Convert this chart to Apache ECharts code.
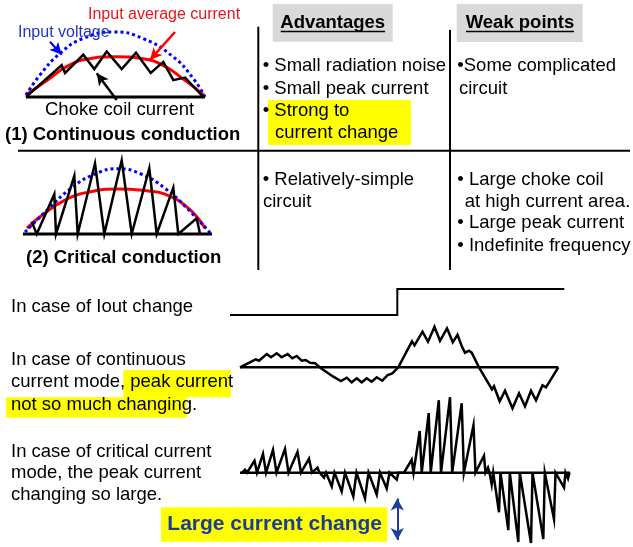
<!DOCTYPE html>
<html>
<head>
<meta charset="utf-8">
<script src="https://cdn.jsdelivr.net/npm/echarts@6/dist/echarts.min.js"></script>
<style>html,body{margin:0;padding:0;background:#fff}#c{width:633px;height:547px}</style>
</head>
<body>
<div id="c"></div>
<script>
// ---- (1) Continuous conduction mini plot (x: phase, y: % of input voltage peak)
const contVoltage = [[0,3],[14,34],[34,67],[57,90],[88,100],[117,90],[147,62],[167,29],[179,0]];
const contAverage = [[0,3],[24,29],[41,47],[60,58],[90,62],[120,58],[139,47],[156,29],[178,3]];
const contCoil = [[0,0],[35.7,49],[39,37],[57.3,65],[68.3,43],[80.7,70],[95.7,43],[110,68],[124.7,37],[137.3,54],[147.3,26],[159,30],[177.3,0]];
const contBase = [[0,0],[179,0]];
// ---- (2) Critical conduction mini plot
const critVoltage = [[2,3],[25,38],[48,70],[72,92],[95,100],[118,92],[142,70],[165,38],[188,0]];
const critAverage = [[4,9],[20,30],[42,52],[65,64],[95,69],[125,66],[142,61],[165,40],[182,9]];
const critCoil = [[8.7,19],[13.7,0],[31.3,61],[33,0],[51.3,89],[54.7,0],[72,108],[81.3,0],[98.7,113],[108.7,0],[126.3,101],[133.7,0],[150.3,71],[155.3,0],[173.7,24],[177,0]];
const critBase = [[0,0],[189,0]];
// ---- Iout step
const ioutStep = [[0,0],[167.3,0],[167.3,1],[334.3,1]];
// ---- Continuous current mode response
const contModeCurrent = [[0,0],[15.7,8],[19,6.6],[26.7,13.3],[31,10],[36.7,14],[41.7,10],[47.7,13.3],[52.3,9],[56.7,11.3],[61.7,6.6],[65.7,7.3],[70,4.6],[75,4],[81,-1],[93.3,-9.4],[95,-8.7],[101,-13.7],[106.7,-10.4],[111.7,-15],[116.7,-11],[121.7,-15],[126.7,-11],[131.7,-14.4],[136.7,-10],[142.3,-13.4],[147.7,-7.7],[152.3,-6],[158.3,0],[172,26],[174.5,22],[182.5,35.6],[188,25.6],[194.5,40.6],[200,26.5],[207,39],[212.8,25],[217.5,32.5],[221.7,21.3],[225,14.6],[229,16.6],[231.7,14.6],[239,0],[252,-22],[254,-19],[259.7,-34],[265,-23.5],[272.5,-41],[279,-26],[285,-39],[291,-23.5],[296,-33],[302.5,-18],[306,-20],[318.3,0]];
const contModeBase = [[0,0],[318.3,0]];
// ---- Critical current mode response
const critModeCurrent = [[2,0],[5,3],[7,0],[14.5,12],[17,0],[23,19],[26,0],[33,23],[36.5,0],[45,24],[48.5,0],[57.5,21],[61,0],[69,14],[72,0],[77.5,5],[79.5,0],
 [84,-5],[86,0],[91.7,-14],[94.5,0],[101.7,-19],[105,0],[113.3,-24],[116.5,0],[125,-26],[128.5,0],[136.7,-22],[140,0],[146.7,-16],[149.5,0],[156.7,-7],[158.5,0],
 [164,0],[171.7,13],[173.5,0],[179.7,42],[181.7,0],[188.7,60],[190.7,0],[198.8,73],[201,0],[210,76],[212.2,0],[221.7,70],[223.9,0],[233.5,48],[235.5,0],[244,17],[245.5,0],[248,5],[249.5,0],
 [251.7,-12],[253.2,0],[259,-40],[260.5,0],[268.3,-58],[269.8,0],[278.3,-70],[279.8,0],[291,-71],[292.5,0],[303.3,-67],[304.8,0],[314,-47],[315.5,0],[324,-15],[325.5,0],[328,-6],[329.5,0]];
const critModeBase = [[0,0],[330,0]];

const FF = "'Liberation Sans', Arial, sans-serif";
const chart = echarts.init(document.getElementById('c'), null, {renderer:'canvas'});

function ln(i, data, color, width, extra) {
  return Object.assign({type:'line', xAxisIndex:i, yAxisIndex:i, data:data, symbol:'none', showSymbol:false,
    clip:false, silent:true, lineStyle:{color:color, width:width, cap:'butt', join:'miter'}}, extra||{});
}
function arrow(p1, p2, color, width) {
  return [{coord:p1, lineStyle:{color:color, width:width, type:'solid'}}, {coord:p2}];
}
function txt(x, y, text, size, opts) {
  opts = opts || {};
  return {type:'text', x:x, y:y, z:10, silent:true, style:{text:text, fill:opts.color||'#000',
    font:(opts.bold?'bold ':'') + size + 'px ' + FF, align:opts.align||'left', verticalAlign:'middle'}};
}
function rect(x, y, w, h, fill) { return {type:'rect', z:1, silent:true, shape:{x:x,y:y,width:w,height:h}, style:{fill:fill}}; }
function seg(x1, y1, x2, y2, w) { return {type:'line', z:2, silent:true, shape:{x1:x1,y1:y1,x2:x2,y2:y2}, style:{stroke:'#000', lineWidth:w}}; }

const option = {
  animation:false,
  backgroundColor:'#ffffff',
  grid:[
    {left:26, top:32, width:180, height:71.5},
    {left:23, top:159, width:189, height:75},
    {left:230, top:289, width:335, height:26},
    {left:240, top:322.3, width:330, height:90},
    {left:240, top:393.3, width:330, height:155}
  ],
  xAxis:[
    {type:'value', gridIndex:0, min:0, max:180, show:false},
    {type:'value', gridIndex:1, min:0, max:189, show:false},
    {type:'value', gridIndex:2, min:0, max:335, show:false},
    {type:'value', gridIndex:3, min:0, max:330, show:false},
    {type:'value', gridIndex:4, min:0, max:330, show:false}
  ],
  yAxis:[
    {type:'value', gridIndex:0, min:-10, max:100, show:false},
    {type:'value', gridIndex:1, min:0, max:115, show:false},
    {type:'value', gridIndex:2, min:0, max:1, show:false},
    {type:'value', gridIndex:3, min:-45, max:45, show:false},
    {type:'value', gridIndex:4, min:-75, max:80, show:false}
  ],
  series:[
    ln(0, contAverage, '#ff0000', 3, {smooth:true}),
    ln(0, contVoltage, '#0000ff', 3, {smooth:true, lineStyle:{color:'#0000ff', width:3, type:[3,3], cap:'butt'}}),
    ln(0, contCoil, '#000', 2.5),
    ln(0, contBase, '#000', 3, {markLine:{silent:true, symbol:['none','arrow'], symbolSize:[9,12], label:{show:false},
      data:[arrow([149,100],[124,57],'#ff0000',2.5), arrow([24,85],[35.7,65],'#0000ff',2), arrow([90.7,-4.6],[70.7,36.5],'#000',2.5)]}}),
    ln(1, critAverage, '#ff0000', 3, {smooth:true}),
    ln(1, critVoltage, '#0000ff', 3, {smooth:true, lineStyle:{color:'#0000ff', width:3, type:[3,3], cap:'butt'}}),
    ln(1, critCoil, '#000', 2.5),
    ln(1, critBase, '#000', 3),
    ln(2, ioutStep, '#000', 2),
    ln(3, contModeBase, '#000', 2.5),
    ln(3, contModeCurrent, '#000', 2.5),
    ln(4, critModeBase, '#000', 2.5),
    ln(4, critModeCurrent, '#000', 2.5, {markLine:{silent:true, symbol:['arrow','arrow'], symbolSize:[10,12], label:{show:false},
      data:[arrow([157.3,-26],[157.3,-68],'#1f3f9f',2)]}})
  ],
  graphic:{elements:[
    rect(272.7, 4, 120, 37.7, '#d9d9d9'),
    rect(456.7, 4, 126, 38, '#d9d9d9'),
    rect(268, 100, 143, 45, '#ffff00'),
    rect(123.3, 370, 107.7, 27.3, '#ffff00'),
    rect(6, 397.3, 180.7, 20.4, '#ffff00'),
    rect(161, 507.3, 226.3, 34.4, '#ffff00'),
    seg(258.3, 26.7, 258.3, 270, 2),
    seg(450, 30, 450, 270, 2),
    seg(18, 150.7, 630, 150.7, 2),
    seg(280.7, 31.5, 385, 31.5, 1.5),
    seg(466, 31.5, 574, 31.5, 1.5),
    txt(88, 15, 'Input average current', 16, {color:'#e8141e'}),
    txt(18, 33, 'Input voltage', 16, {color:'#2233cc'}),
    txt(45, 110, 'Choke coil current', 18.5),
    txt(5, 135, '(1) Continuous conduction', 18.5, {bold:true}),
    txt(26, 258.3, '(2) Critical conduction', 18.5, {bold:true}),
    txt(332.7, 22.5, 'Advantages', 18.5, {bold:true, align:'center'}),
    txt(520, 22.5, 'Weak points', 18.5, {bold:true, align:'center'}),
    txt(262.7, 65.7, '\u2022 Small radiation noise', 18.5),
    txt(262.7, 89, '\u2022 Small peak current', 18.5),
    txt(262.7, 111, '\u2022 Strong to', 18.5),
    txt(275, 132.7, 'current change', 18.5),
    txt(457.3, 65.7, '\u2022Some complicated', 18.5),
    txt(459, 89, 'circuit', 18.5),
    txt(262.7, 180, '\u2022 Relatively-simple', 18.5),
    txt(263, 202, 'circuit', 18.5),
    txt(457.3, 180, '\u2022 Large choke coil', 18.5),
    txt(464.7, 202, 'at high current area.', 18.5),
    txt(457.3, 223.3, '\u2022 Large peak current', 18.5),
    txt(457.3, 246, '\u2022 Indefinite frequency', 18.5),
    txt(11, 306.7, 'In case of Iout change', 18.5),
    txt(11, 360, 'In case of continuous', 18.5),
    txt(11, 381.7, 'current mode, peak current', 18.5),
    txt(11, 405, 'not so much changing.', 18.5),
    txt(11, 451.7, 'In case of critical current', 18.5),
    txt(11, 473.3, 'mode, the peak current', 18.5),
    txt(11, 495, 'changing so large.', 18.5),
    txt(167.3, 524.5, 'Large current change', 21, {bold:true, color:'#1a3c95'})
  ]}
};
chart.setOption(option);
</script>
</body>
</html>
